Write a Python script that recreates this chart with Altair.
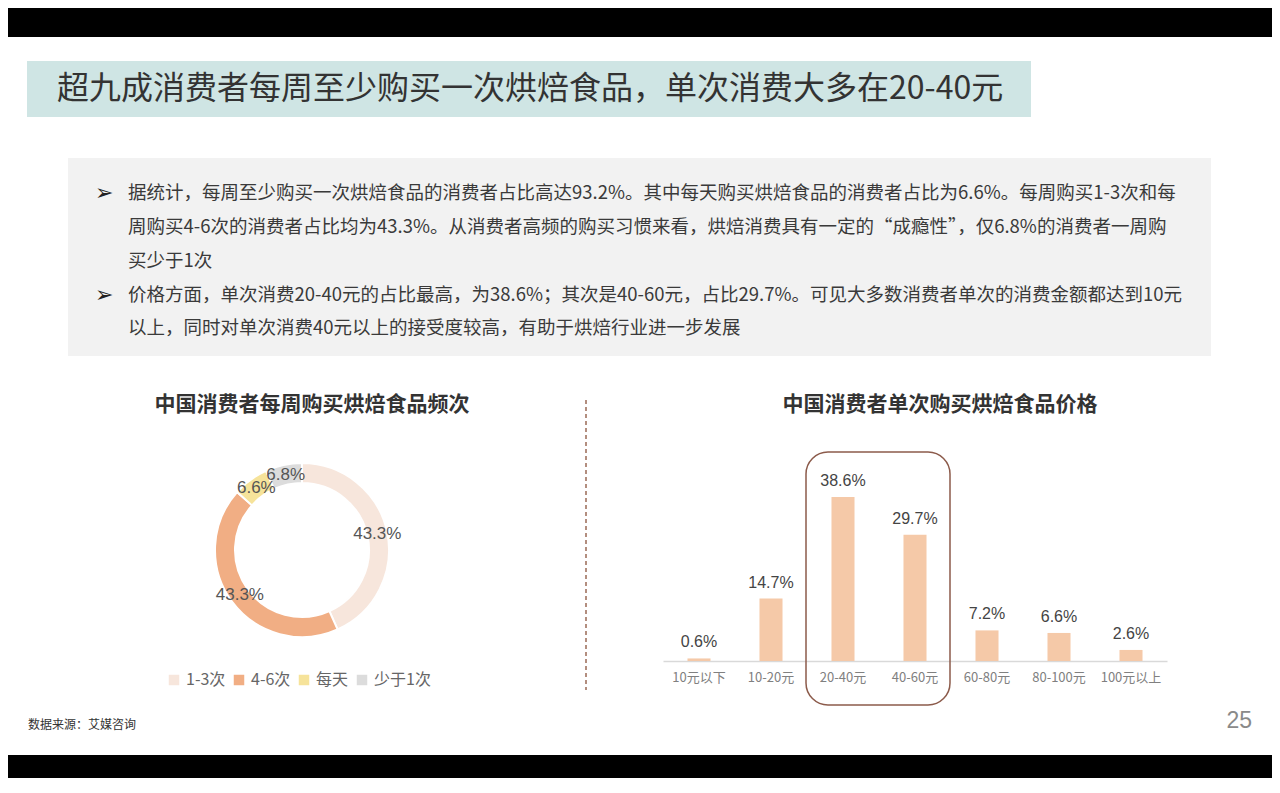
"""
Bakery consumption slide: weekly purchase frequency donut and
spend-per-purchase bar chart.
"""

import altair as alt
import pandas as pd

FONT = 'Noto Sans CJK SC'

# page is drawn at an 8px offset inside the browser window
W = 1264
H = 770

TITLE = '超九成消费者每周至少购买一次烘焙食品，单次消费大多在20-40元'
BULLET_LINES = [
    ('➢', '据统计，每周至少购买一次烘焙食品的消费者占比高达93.2%。其中每天购买烘焙食品的消费者占比为6.6%。每周购买1-3次和每'),
    ('', '周购买4-6次的消费者占比均为43.3%。从消费者高频的购买习惯来看，烘焙消费具有一定的“成瘾性”，仅6.8%的消费者一周购'),
    ('', '买少于1次'),
    ('➢', '价格方面，单次消费20-40元的占比最高，为38.6%；其次是40-60元，占比29.7%。可见大多数消费者单次的消费金额都达到10元'),
    ('', '以上，同时对单次消费40元以上的接受度较高，有助于烘焙行业进一步发展'),
]
LEFT_TITLE = '中国消费者每周购买烘焙食品频次'
RIGHT_TITLE = '中国消费者单次购买烘焙食品价格'
SOURCE = '数据来源：艾媒咨询'
PAGE_NO = '25'

# donut data
freq_labels = ['1-3次', '4-6次', '每天', '少于1次']
freq_share = [43.3, 43.3, 6.6, 6.8]
freq_colors = ['#f7e6dc', '#f1ae84', '#f6e39a', '#dcdcdc']

# bar data
price_labels = ['10元以下', '10-20元', '20-40元', '40-60元', '60-80元', '80-100元', '100元以上']
price_share = [0.6, 14.7, 38.6, 29.7, 7.2, 6.6, 2.6]

ONE = pd.DataFrame({'k': [0]})


def box(x1, x2, y1, y2, **mark) -> alt.Chart:
    """Plain layout rectangle."""
    return alt.Chart(ONE).mark_rect(**mark).encode(
        x=alt.value(x1), x2=alt.value(x2), y=alt.value(y1), y2=alt.value(y2))


def label(text, x, y, **mark) -> alt.Chart:
    """Free-standing text."""
    mark.setdefault('font', FONT)
    mark.setdefault('baseline', 'middle')
    return alt.Chart(ONE).mark_text(text=text, **mark).encode(
        x=alt.value(x), y=alt.value(y))


layers = [
    box(0, W, 0, 29, color='black'),
    box(0, W, 747, H, color='black'),
    box(19, 1023, 53, 109, color='#cfe5e4'),
    label(TITLE, 49, 81, align='left', fontSize=32, color='#333333'),
    box(60, 1203, 150, 348, color='#f2f2f2'),
]

line_y = [185, 219, 253, 287, 320]
for (bullet, txt), ly in zip(BULLET_LINES, line_y):
    if bullet:
        layers.append(label(bullet, 87, ly, align='left', fontSize=22,
                            font='DejaVu Sans', color='#222222'))
    layers.append(label(txt, 120, ly, align='left', fontSize=18.5, color='#3a3a3a'))

layers += [
    label(LEFT_TITLE, 304, 397, align='center', fontSize=21, fontWeight='bold', color='#333333'),
    label(RIGHT_TITLE, 932, 397, align='center', fontSize=21, fontWeight='bold', color='#333333'),
    alt.Chart(ONE).mark_rule(color='#9b6a55', strokeDash=[4, 3], strokeWidth=1.5).encode(
        x=alt.value(578), y=alt.value(392), y2=alt.value(682)),
    label(SOURCE, 20, 717, align='left', fontSize=12, color='#333333'),
    label(PAGE_NO, 1244, 713, align='right', fontSize=23, color='#8a8a8a', font='Liberation Sans'),
]

# donut
donut_df = pd.DataFrame({
    'freq': freq_labels,
    'share': freq_share,
    'idx': list(range(len(freq_labels))),
})
donut_df['txt'] = donut_df['share'].map(lambda v: f'{v:.1f}%')

donut_base = alt.Chart(donut_df).encode(
    theta=alt.Theta('share:Q', stack=True),
    order=alt.Order('idx:Q'),
    x=alt.value(294),
    y=alt.value(542),
)
donut = donut_base.mark_arc(innerRadius=67, outerRadius=87, stroke='white', strokeWidth=2).encode(
    color=alt.Color('freq:N', sort=freq_labels,
                    scale=alt.Scale(domain=freq_labels, range=freq_colors),
                    legend=alt.Legend(orient='none', legendX=158, legendY=664,
                                      direction='horizontal', title=None,
                                      symbolType='square', symbolSize=110,
                                      symbolStrokeWidth=0, labelFontSize=16,
                                      labelColor='#666666', labelFont=FONT,
                                      columnPadding=5, padding=0)),
)
donut_text = donut_base.mark_text(radius=77, fontSize=17, color='#555555',
                                  font='Liberation Sans').encode(text='txt:N')
layers += [donut, donut_text]

# bars
bar_df = pd.DataFrame({'price': price_labels, 'pct': price_share})
bar_df['txt'] = bar_df['pct'].map(lambda v: f'{v:.1f}%')

bar_base = alt.Chart(bar_df).encode(
    x=alt.X('price:N', sort=price_labels, title=None,
            scale=alt.Scale(range=[655, 1159], paddingInner=0.68, paddingOuter=0.34),
            axis=alt.Axis(orient='bottom', offset=-(H - 653), labelAngle=0,
                          labelFont=FONT, labelFontSize=13, labelColor='#808080',
                          labelPadding=10, ticks=False, grid=False,
                          domainColor='#d9d9d9', domainWidth=1.5)),
    y=alt.Y('pct:Q', axis=None, scale=alt.Scale(domain=[0, 100], range=[653, 228])),
)
bars = bar_base.mark_bar(color='#f5c9a8')
bar_text = bar_base.mark_text(baseline='bottom', dy=-8, fontSize=16, color='#444444',
                              font='Liberation Sans').encode(text='txt:N')
highlight = box(798, 942, 444, 697, cornerRadius=22, fillOpacity=0,
                stroke='#8c5b4b', strokeWidth=1.5)
layers += [bars, bar_text, highlight]

chart = alt.layer(*layers).properties(
    width=W, height=H, padding=0, autosize=alt.AutoSizeParams(type='none'),
    background='white',
).configure_view(stroke=None)

chart.save('out.html', embed_options={'renderer': 'svg', 'actions': False})
